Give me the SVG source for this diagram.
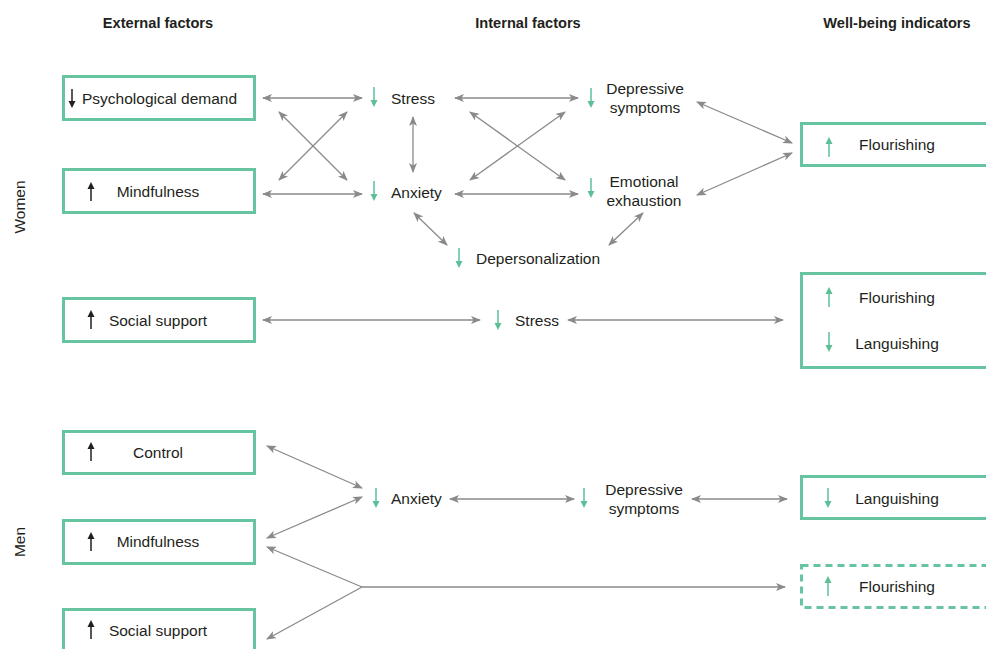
<svg xmlns="http://www.w3.org/2000/svg" width="986" height="649" viewBox="0 0 986 649">
<defs>
<style>
text{font-family:"Liberation Sans Narrow","Liberation Sans",Arial,sans-serif;fill:#231f20;font-size:15.5px}
.h{font-weight:bold;font-size:14.6px;text-anchor:middle}
.c{text-anchor:middle}
.box{fill:none;stroke:#66c4a0;stroke-width:3}
.dash{stroke-dasharray:7 5}
.con{stroke:#8a8a8c;stroke-width:1.3;fill:none;marker-end:url(#ah)}
.bi{marker-start:url(#ah)}
</style>
<marker id="ah" viewBox="0 0 10 8" refX="9" refY="4" markerWidth="10" markerHeight="8" markerUnits="userSpaceOnUse" orient="auto-start-reverse">
<path d="M0,0 L10,4 L0,8 L2.5,4 z" fill="#8a8a8c"/>
</marker>
<g id="ub"><line x1="0" y1="-8" x2="0" y2="9" stroke="#231f20" stroke-width="1.5"/><path d="M-3.5,-3 L0,-10 L3.5,-3 z" fill="#231f20"/></g>
<g id="db"><line x1="0" y1="-9" x2="0" y2="8" stroke="#231f20" stroke-width="1.5"/><path d="M-3.5,3 L0,10 L3.5,3 z" fill="#231f20"/></g>
<g id="ug"><line x1="0" y1="-8" x2="0" y2="10" stroke="#5dbf98" stroke-width="1.5"/><path d="M-3.5,-3 L0,-10 L3.5,-3 z" fill="#5dbf98"/></g>
<g id="dg"><line x1="0" y1="-10" x2="0" y2="8" stroke="#5dbf98" stroke-width="1.5"/><path d="M-3.5,3 L0,10 L3.5,3 z" fill="#5dbf98"/></g>
</defs>
<rect width="986" height="649" fill="#fff"/>

<g id="headers">
<text class="h" x="158" y="28">External factors</text>
<text class="h" x="528" y="28">Internal factors</text>
<text class="h" x="897" y="28">Well-being indicators</text>
<text class="c" transform="translate(25,207) rotate(-90)">Women</text>
<text class="c" transform="translate(25,542) rotate(-90)">Men</text>
</g>

<g id="connectors">
<line class="con bi" x1="263" y1="98" x2="362" y2="98"/>
<line class="con bi" x1="263" y1="194" x2="362" y2="194"/>
<line class="con bi" x1="279" y1="112" x2="347" y2="180"/>
<line class="con bi" x1="347" y1="112" x2="279" y2="180"/>
<line class="con bi" x1="413" y1="117" x2="413" y2="172"/>
<line class="con bi" x1="455" y1="98" x2="578" y2="98"/>
<line class="con bi" x1="455" y1="194" x2="578" y2="194"/>
<line class="con bi" x1="470" y1="112" x2="565" y2="180"/>
<line class="con bi" x1="565" y1="112" x2="470" y2="180"/>
<line class="con bi" x1="414" y1="213" x2="447" y2="245"/>
<line class="con bi" x1="643" y1="213" x2="609" y2="245"/>
<line class="con bi" x1="697" y1="102" x2="792" y2="143"/>
<line class="con bi" x1="697" y1="195" x2="792" y2="153"/>
<line class="con bi" x1="263" y1="320" x2="480" y2="320"/>
<line class="con bi" x1="568" y1="320" x2="783" y2="320"/>
<line class="con bi" x1="267" y1="446" x2="362" y2="488"/>
<line class="con bi" x1="267" y1="538" x2="362" y2="497"/>
<line class="con" x1="362" y1="587" x2="267" y2="547"/>
<line class="con" x1="362" y1="587" x2="267" y2="639"/>
<line class="con" x1="362" y1="587" x2="785" y2="587"/>
<line class="con bi" x1="450" y1="499" x2="574" y2="499"/>
<line class="con bi" x1="692" y1="499" x2="787" y2="499"/>
</g>

<g id="w-psych"><rect class="box" x="63.5" y="76.5" width="191" height="43"/><use href="#db" x="72" y="98"/><text x="82" y="104">Psychological demand</text></g>
<g id="w-mind"><rect class="box" x="63.5" y="169.5" width="191" height="43"/><use href="#ub" x="91" y="192"/><text class="c" x="158" y="197">Mindfulness</text></g>
<g id="w-social"><rect class="box" x="63.5" y="298.5" width="191" height="43"/><use href="#ub" x="91" y="320"/><text class="c" x="158" y="326">Social support</text></g>

<g id="w-stress"><use href="#dg" x="374" y="97"/><text x="391" y="104">Stress</text></g>
<g id="w-anxiety"><use href="#dg" x="374" y="191"/><text x="391" y="198">Anxiety</text></g>
<g id="w-dep"><use href="#dg" x="591" y="98"/><text class="c" x="645" y="94">Depressive</text><text class="c" x="645" y="113">symptoms</text></g>
<g id="w-emo"><use href="#dg" x="591" y="188"/><text class="c" x="644" y="187">Emotional</text><text class="c" x="644" y="206">exhaustion</text></g>
<g id="w-depers"><use href="#dg" x="459" y="258"/><text x="476" y="264">Depersonalization</text></g>
<g id="w-stress2"><use href="#dg" x="498" y="320"/><text x="515" y="326">Stress</text></g>

<g id="w-flour"><rect class="box" x="801.5" y="123.5" width="200" height="42"/><use href="#ug" x="829" y="147"/><text class="c" x="897" y="150">Flourishing</text></g>
<g id="w-flourlang"><rect class="box" x="801.5" y="273.5" width="200" height="94"/><use href="#ug" x="829" y="297"/><text class="c" x="897" y="303">Flourishing</text><use href="#dg" x="829" y="342"/><text class="c" x="897" y="349">Languishing</text></g>

<g id="m-control"><rect class="box" x="63.5" y="431.5" width="191" height="42"/><use href="#ub" x="91" y="452"/><text class="c" x="158" y="458">Control</text></g>
<g id="m-mind"><rect class="box" x="63.5" y="520.5" width="191" height="43"/><use href="#ub" x="91" y="542"/><text class="c" x="158" y="547">Mindfulness</text></g>
<g id="m-social"><rect class="box" x="63.5" y="609.5" width="191" height="60"/><use href="#ub" x="91" y="630"/><text class="c" x="158" y="636">Social support</text></g>

<g id="m-anxiety"><use href="#dg" x="376" y="498"/><text x="391" y="504">Anxiety</text></g>
<g id="m-dep"><use href="#dg" x="584" y="498"/><text class="c" x="644" y="495">Depressive</text><text class="c" x="644" y="514">symptoms</text></g>

<g id="m-lang"><rect class="box" x="801.5" y="476.5" width="200" height="42"/><use href="#dg" x="828" y="498"/><text class="c" x="897" y="504">Languishing</text></g>
<g id="m-flour"><rect class="box dash" x="801.5" y="565.5" width="200" height="42"/><use href="#ug" x="828" y="586"/><text class="c" x="897" y="592">Flourishing</text></g>
</svg>
